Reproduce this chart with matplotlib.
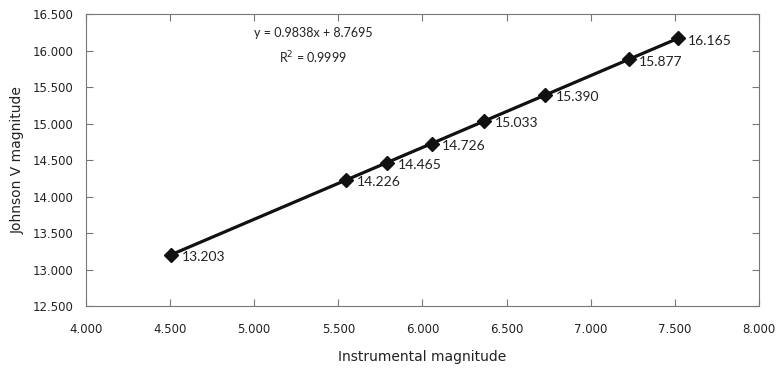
import matplotlib.pyplot as plt
import numpy as np

# instrumental vs Johnson V magnitudes
inst = np.array([4.507, 5.546, 5.789, 6.055, 6.367, 6.730, 7.225, 7.517])
vmag = np.array([13.203, 14.226, 14.465, 14.726, 15.033, 15.390, 15.877, 16.165])
slope = 0.9838
icpt = 8.7695

fig = plt.figure(figsize=(7.78, 3.69), dpi=100)
ax = fig.add_axes([0.1105, 0.1707, 0.865, 0.7913])

xl = np.array([inst.min(), inst.max()])
ax.plot(xl, slope * xl + icpt, color='#111111', lw=2.3, zorder=2)
ax.plot(inst, vmag, 'D', color='#111111', ms=7, zorder=3)

for x, y in zip(inst, vmag):
    ax.annotate('%.3f' % y, (x, y), xytext=(7.5, -1.5), textcoords='offset points',
                va='center', fontsize=10, family='Lato', color='#222222')

ax.text(5.35, 16.24, 'y = 0.9838x + 8.7695', ha='center', va='center',
        fontsize=9, family='Lato', color='#222222')
ax.text(5.35, 15.90, 'R$^2$ = 0.9999', ha='center', va='center',
        fontsize=9, family='Lato', color='#222222')

ax.set_xlim(4, 8)
ax.set_ylim(12.5, 16.5)
ax.set_xticks(np.arange(4, 8.01, 0.5))
ax.set_yticks(np.arange(12.5, 16.51, 0.5))
ax.xaxis.set_major_formatter(plt.FormatStrFormatter('%.3f'))
ax.yaxis.set_major_formatter(plt.FormatStrFormatter('%.3f'))
ax.tick_params(direction='in', top=True, right=True, length=5, color='#777777',
               labelsize=8.5, labelcolor='#222222', pad=9)
ax.tick_params(axis='x', pad=12)
for s in ax.spines.values():
    s.set_color('#777777')
ax.set_xlabel('Instrumental magnitude', fontsize=10, color='#222222', labelpad=10)
ax.set_ylabel('Johnson V magnitude', fontsize=10, color='#222222', labelpad=6)

fig.savefig('out.png', dpi=100)
